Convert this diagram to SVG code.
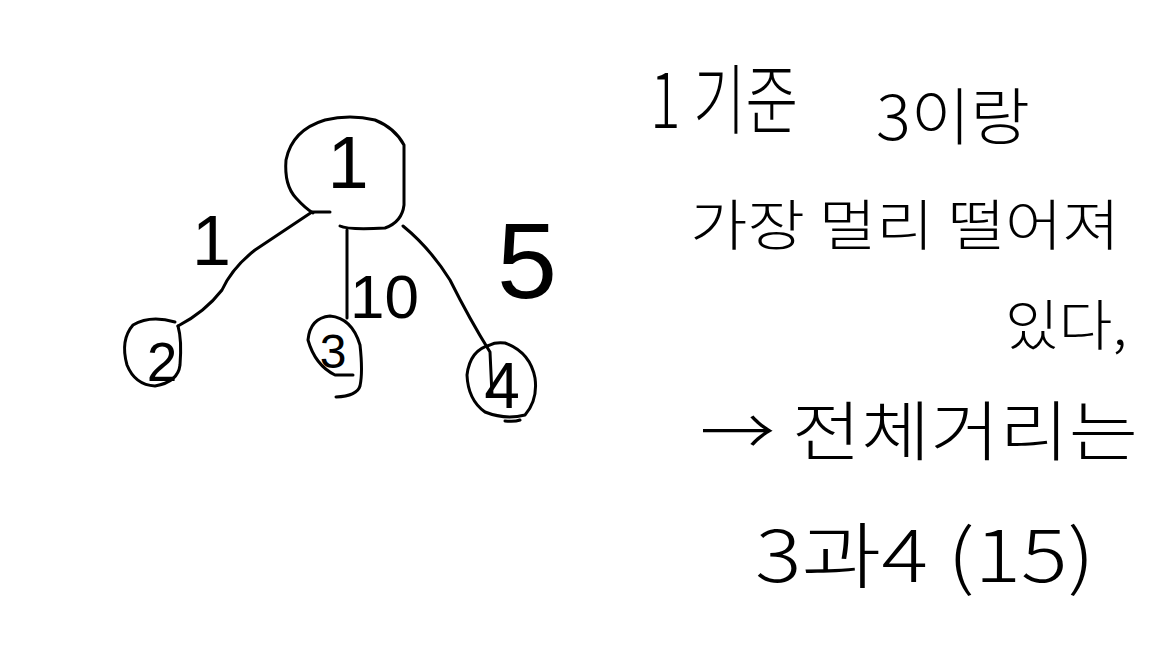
<svg xmlns="http://www.w3.org/2000/svg" width="1152" height="648" viewBox="0 0 1152 648">
<style>
.s{fill:none;stroke:#000;stroke-width:3;stroke-linecap:round;stroke-linejoin:round}
.n{font-family:"Liberation Sans",Arial,sans-serif;fill:#000}
.k{font-family:"Noto Sans CJK KR","Noto Sans",sans-serif;fill:#000;font-weight:300}
</style>
<rect width="1152" height="648" fill="#fff"/>
<g id="connectors">
<path class="s" d="M312 212 L330 212 M312 212 Q285 230 255 250 Q232 268 222 290 Q205 312 178 326"/>
<path class="s" d="M347 230 L347 318"/>
<path class="s" d="M403 226 Q430 248 450 280 Q470 320 490 352 L492 395"/>
<text class="n" x="192" y="265" font-size="70">1</text>
<text class="n" x="350" y="318" font-size="62">10</text>
<text class="n" x="497" y="298" font-size="108">5</text>
</g>
<g id="node1">
<path class="s" d="M340 226 Q348 230 385 228 Q402 222 404 205 L404 145 Q395 128 375 120 Q350 114 325 120 Q292 130 286 160 Q284 185 296 198 Q305 208 313 213"/>
<text class="n" x="348" y="188" font-size="74" text-anchor="middle">1</text>
</g>
<g id="node2">
<path class="s" d="M178 326 Q182 340 180 365 Q178 382 155 386 Q135 385 127 365 Q120 340 133 325 Q150 315 175 322"/>
<text class="n" x="162" y="381" font-size="55" text-anchor="middle">2</text>
</g>
<g id="node3">
<path class="s" d="M353 375 L335 375 Q315 365 308 340 Q310 318 330 316 Q352 318 360 345 Q363 372 360 386 Q357 396 336 397"/>
<text class="n" x="333" y="368" font-size="48" text-anchor="middle">3</text>
</g>
<g id="node4">
<path class="s" d="M490 345 Q470 350 467 375 Q468 400 485 412 Q505 420 525 415 Q538 400 535 378 Q530 352 505 343 Q495 342 490 345 M505 421 Q515 422 520 420"/>
<text class="n" x="502" y="408" font-size="64" text-anchor="middle">4</text>
</g>
<g id="notes">
<text class="k" x="650" y="128" font-size="76" textLength="148" lengthAdjust="spacingAndGlyphs">1 기준</text>
<text class="k" x="876" y="140" font-size="62" textLength="154" lengthAdjust="spacingAndGlyphs">3이랑</text>
<text class="k" x="690" y="245" font-size="55" textLength="430" lengthAdjust="spacingAndGlyphs">가장 멀리 떨어져</text>
<text class="k" x="1005" y="345" font-size="55" textLength="122" lengthAdjust="spacingAndGlyphs">있다,</text>
<text class="k" x="700" y="455" font-size="65" textLength="438" lengthAdjust="spacingAndGlyphs">→ 전체거리는</text>
<text class="k" x="755" y="582" font-size="72" textLength="340" lengthAdjust="spacingAndGlyphs">3과4 (15)</text>
</g>
</svg>
